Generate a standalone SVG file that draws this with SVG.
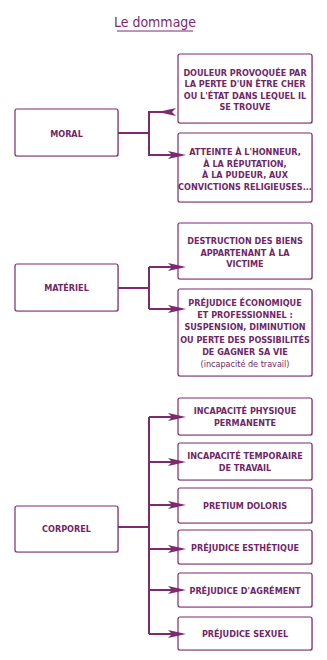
<svg xmlns="http://www.w3.org/2000/svg" width="327" height="660" viewBox="0 0 327 660">
<style>
.bg{fill:#fff}
.box{fill:#fff;stroke:#7d2a70;stroke-width:1.2}
.sh{fill:#d8d0d6}
.t{font-family:"DejaVu Sans Condensed","DejaVu Sans",sans-serif;font-stretch:condensed;font-weight:bold;font-size:9px;fill:#702768;text-anchor:middle}
.n{font-weight:normal}
.c{fill:none;stroke:#7d2a70;stroke-width:2}
.title{font-family:"DejaVu Sans Condensed","DejaVu Sans",sans-serif;font-stretch:condensed;font-size:14px;fill:#7d2a70;text-anchor:middle}
</style>
<defs>
<marker id="ah" viewBox="0 0 18 8" refX="4" refY="4" markerWidth="18" markerHeight="8" markerUnits="userSpaceOnUse" orient="auto">
<path d="M0,0 L18,4 L0,8 L4,4 Z" fill="#7d2a70"/>
</marker>
</defs>
<rect class="bg" x="0" y="0" width="327" height="660"/>
<g id="title">
<text class="title" x="155" y="27">Le dommage</text>
<line x1="117" y1="31" x2="193" y2="31" stroke="#7d2a70" stroke-width="1"/>
</g>
<g id="moral">
<rect class="sh" x="16" y="110" width="103" height="47" rx="2"/>
<rect class="box" x="15" y="109" width="103" height="47" rx="2"/>
<text class="t" x="66.5" y="136.5">MORAL</text>
</g>
<g id="moral1">
<rect class="sh" x="179" y="55" width="134" height="69" rx="2"/>
<rect class="box" x="178" y="54" width="134" height="69" rx="2"/>
<text class="t" x="245" y="75.5">DOULEUR PROVOQUÉE PAR</text>
<text class="t" x="245" y="87">LA PERTE D'UN ÊTRE CHER</text>
<text class="t" x="245" y="98.5">OU L'ÉTAT DANS LEQUEL IL</text>
<text class="t" x="245" y="110">SE TROUVE</text>
</g>
<g id="moral2">
<rect class="sh" x="179" y="134" width="134" height="69" rx="2"/>
<rect class="box" x="178" y="133" width="134" height="69" rx="2"/>
<text class="t" x="245" y="155">ATTEINTE À L'HONNEUR,</text>
<text class="t" x="245" y="166.7">À LA RÉPUTATION,</text>
<text class="t" x="245" y="178.4">À LA PUDEUR, AUX</text>
<text class="t" x="245" y="190">CONVICTIONS RELIGIEUSES...</text>
</g>
<g id="materiel">
<rect class="sh" x="16" y="265" width="103" height="47" rx="2"/>
<rect class="box" x="15" y="264" width="103" height="47" rx="2"/>
<text class="t" x="66.5" y="291">MATÉRIEL</text>
</g>
<g id="materiel1">
<rect class="sh" x="179" y="224" width="134" height="56" rx="2"/>
<rect class="box" x="178" y="223" width="134" height="56" rx="2"/>
<text class="t" x="245" y="244">DESTRUCTION DES BIENS</text>
<text class="t" x="245" y="255.5">APPARTENANT À LA</text>
<text class="t" x="245" y="267">VICTIME</text>
</g>
<g id="materiel2">
<rect class="sh" x="179" y="290" width="134" height="87" rx="2"/>
<rect class="box" x="178" y="289" width="134" height="87" rx="2"/>
<text class="t" x="245" y="306">PRÉJUDICE ÉCONOMIQUE</text>
<text class="t" x="245" y="318">ET PROFESSIONNEL :</text>
<text class="t" x="245" y="330">SUSPENSION, DIMINUTION</text>
<text class="t" x="245" y="342.5">OU PERTE DES POSSIBILITÉS</text>
<text class="t" x="245" y="355">DE GAGNER SA VIE</text>
<text class="t n" x="245" y="367">(incapacité de travail)</text>
</g>
<g id="corporel">
<rect class="sh" x="16" y="507" width="103" height="46" rx="2"/>
<rect class="box" x="15" y="506" width="103" height="46" rx="2"/>
<text class="t" x="66.5" y="532">CORPOREL</text>
</g>
<g id="corporel1">
<rect class="sh" x="179" y="399" width="134" height="37" rx="2"/>
<rect class="box" x="178" y="398" width="134" height="37" rx="2"/>
<text class="t" x="245" y="414">INCAPACITÉ PHYSIQUE</text>
<text class="t" x="245" y="426">PERMANENTE</text>
</g>
<g id="corporel2">
<rect class="sh" x="179" y="444" width="134" height="37" rx="2"/>
<rect class="box" x="178" y="443" width="134" height="37" rx="2"/>
<text class="t" x="245" y="459">INCAPACITÉ TEMPORAIRE</text>
<text class="t" x="245" y="471">DE TRAVAIL</text>
</g>
<g id="corporel3">
<rect class="sh" x="179" y="489" width="134" height="35" rx="2"/>
<rect class="box" x="178" y="488" width="134" height="35" rx="2"/>
<text class="t" x="245" y="509">PRETIUM DOLORIS</text>
</g>
<g id="corporel4">
<rect class="sh" x="179" y="531" width="134" height="34" rx="2"/>
<rect class="box" x="178" y="530" width="134" height="34" rx="2"/>
<text class="t" x="245" y="551">PRÉJUDICE ESTHÉTIQUE</text>
</g>
<g id="corporel5">
<rect class="sh" x="179" y="574" width="134" height="34" rx="2"/>
<rect class="box" x="178" y="573" width="134" height="34" rx="2"/>
<text class="t" x="245" y="594">PRÉJUDICE D'AGRÉMENT</text>
</g>
<g id="corporel6">
<rect class="sh" x="179" y="618" width="134" height="33" rx="2"/>
<rect class="box" x="178" y="617" width="134" height="33" rx="2"/>
<text class="t" x="245" y="637">PRÉJUDICE SEXUEL</text>
</g>
<g id="connectors">
<path class="c" d="M118,133 H149"/>
<path class="c" d="M172,112 H149 V155 H172" marker-start="url(#ah)" marker-end="url(#ah)"/>
<path class="c" d="M118,288 H149"/>
<path class="c" d="M149,267 V309"/>
<path class="c" d="M149,267 H172" marker-end="url(#ah)"/>
<path class="c" d="M149,309 H172" marker-end="url(#ah)"/>
<path class="c" d="M118,527 H149"/>
<path class="c" d="M149,417 V634"/>
<path class="c" d="M149,417 H172" marker-end="url(#ah)"/>
<path class="c" d="M149,462 H172" marker-end="url(#ah)"/>
<path class="c" d="M149,505 H172" marker-end="url(#ah)"/>
<path class="c" d="M149,549 H172" marker-end="url(#ah)"/>
<path class="c" d="M149,590 H172" marker-end="url(#ah)"/>
<path class="c" d="M149,634 H172" marker-end="url(#ah)"/>
</g>
</svg>
